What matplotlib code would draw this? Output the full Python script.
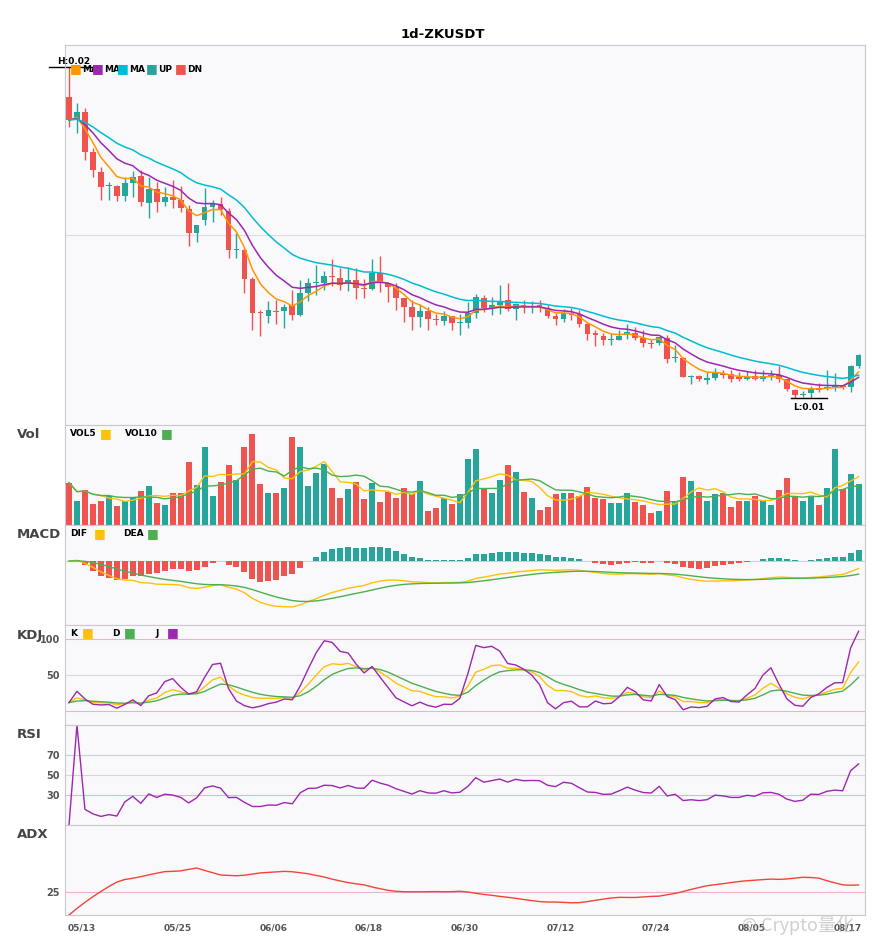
import numpy as np
import pandas as pd
import matplotlib
matplotlib.use('Agg')
import matplotlib.pyplot as plt

# daily ZK/USDT candles
dates = pd.date_range('2024-05-12', periods=100, freq='D')
opens = [0.2515,0.240,0.244,0.224,0.214,0.207,0.207,0.202,0.2085,0.212,
         0.1985,0.2055,0.199,0.2015,0.200,0.1955,0.1835,0.190,0.1965,0.198,
         0.1945,0.175,0.175,0.1605,0.144,0.142,0.1445,0.1445,0.1475,0.1425,
         0.1535,0.1585,0.1585,0.162,0.161,0.1585,0.160,0.156,0.1555,0.1635,
         0.1585,0.1565,0.151,0.1465,0.1415,0.1445,0.1405,0.1395,0.142,0.1385,
         0.1385,0.1435,0.151,0.146,0.1475,0.150,0.1455,0.1475,0.1465,0.1475,
         0.146,0.142,0.1405,0.1435,0.143,0.138,0.1335,0.132,0.130,0.130,
         0.1325,0.1335,0.131,0.1285,0.1285,0.131,0.121,0.121,0.1115,0.112,
         0.110,0.111,0.1135,0.113,0.1115,0.1105,0.112,0.1105,0.112,0.1125,
         0.1105,0.105,0.1025,0.1035,0.1055,0.106,0.1065,0.107,0.1065,0.117]
closes = [0.240,0.244,0.224,0.215,0.2065,0.2072,0.202,0.2085,0.2115,0.199,
          0.2055,0.199,0.2015,0.200,0.196,0.1835,0.1875,0.1965,0.1985,0.195,
          0.175,0.1752,0.1605,0.1435,0.1435,0.145,0.144,0.1465,0.1425,0.1535,
          0.1585,0.1587,0.162,0.1615,0.1575,0.160,0.156,0.1555,0.1635,0.1595,
          0.1565,0.151,0.1465,0.1415,0.1445,0.1405,0.140,0.142,0.1385,0.139,
          0.1435,0.1515,0.146,0.1475,0.149,0.1455,0.148,0.1465,0.1467,0.1465,
          0.142,0.1405,0.1435,0.1425,0.138,0.133,0.1325,0.130,0.1302,0.132,
          0.134,0.131,0.1285,0.128,0.1315,0.1205,0.1215,0.1115,0.112,0.1105,
          0.111,0.1135,0.1125,0.1105,0.1105,0.1115,0.1105,0.112,0.1122,0.1105,
          0.1055,0.1025,0.103,0.1055,0.1052,0.1065,0.107,0.1065,0.117,0.1225]
highs = [0.2665,0.2485,0.246,0.226,0.2165,0.209,0.2075,0.2115,0.2145,0.215,
         0.2115,0.209,0.2065,0.210,0.207,0.1975,0.1855,0.206,0.200,0.2015,
         0.196,0.1835,0.176,0.1615,0.145,0.1495,0.150,0.148,0.155,0.160,
         0.161,0.1675,0.1645,0.1705,0.166,0.1665,0.166,0.1605,0.1705,0.172,
         0.1585,0.1585,0.150,0.150,0.148,0.1465,0.143,0.1445,0.142,0.143,
         0.149,0.153,0.1525,0.1515,0.1575,0.1585,0.1485,0.150,0.1495,0.150,
         0.1475,0.1435,0.1455,0.146,0.145,0.1385,0.135,0.1335,0.1335,0.135,
         0.138,0.1365,0.135,0.1305,0.1315,0.1325,0.1275,0.1215,0.1125,0.1125,
         0.114,0.116,0.115,0.115,0.114,0.1145,0.115,0.115,0.115,0.117,
         0.1105,0.1055,0.1045,0.107,0.1085,0.115,0.1135,0.107,0.1175,0.123]
lows = [0.2365,0.2335,0.220,0.2115,0.200,0.200,0.1995,0.1995,0.2015,0.197,
        0.191,0.194,0.197,0.196,0.194,0.177,0.179,0.1875,0.189,0.1925,
        0.171,0.171,0.1535,0.135,0.132,0.1385,0.138,0.136,0.140,0.142,
        0.1495,0.1525,0.155,0.157,0.155,0.1545,0.1505,0.151,0.155,0.154,
        0.149,0.145,0.139,0.135,0.1365,0.135,0.1375,0.1375,0.135,0.1325,
        0.136,0.141,0.144,0.1425,0.143,0.1445,0.140,0.1435,0.1435,0.144,
        0.141,0.1375,0.139,0.140,0.1365,0.130,0.127,0.1275,0.1275,0.130,
        0.1305,0.130,0.1265,0.126,0.1275,0.1185,0.119,0.1115,0.108,0.1095,
        0.108,0.110,0.111,0.109,0.1095,0.110,0.110,0.1095,0.110,0.109,
        0.1045,0.101,0.1015,0.101,0.104,0.105,0.1045,0.1055,0.104,0.116]
volumes = [42,24,35,21,24,29,19,24,27,34,39,22,20,32,32,62,40,77,29,43,
           59,45,77,90,41,32,32,37,87,77,39,51,60,37,27,36,43,26,42,23,
           33,27,37,31,44,14,17,27,21,31,65,75,36,32,45,59,52,33,27,15,
           18,31,32,32,29,38,27,26,22,22,32,23,20,12,14,34,24,48,44,33,
           24,31,32,18,24,24,29,25,20,35,47,29,24,28,20,37,75,36,50,41]
tick_labels = ['05/13','05/25','06/06','06/18','06/30','07/12','07/24','08/05','08/17']

UP, DN = '#26a69a', '#ef5350'
BG = '#f9f9fb'

df = pd.DataFrame({'open': opens, 'high': highs, 'low': lows, 'close': closes,
                   'vol': volumes}, index=dates)
x = np.arange(len(df))
up = df.close >= df.open
col = np.where(up, UP, DN)

# indicators
c = df.close
ma5 = c.ewm(span=5, adjust=False).mean()
ma10 = c.ewm(span=10, adjust=False).mean()
ma20 = c.ewm(span=20, adjust=False).mean()
vol5 = df.vol.rolling(5, min_periods=1).mean()
vol10 = df.vol.rolling(10, min_periods=1).mean()

dif = c.ewm(span=12, adjust=False).mean() - c.ewm(span=26, adjust=False).mean()
dea = dif.ewm(span=9, adjust=False).mean()
hist = 2 * (dif - dea)

low9 = df.low.rolling(9, min_periods=1).min()
high9 = df.high.rolling(9, min_periods=1).max()
rsv = (c - low9) / (high9 - low9) * 100
k = rsv.ewm(com=2, adjust=False).mean()
d = k.ewm(com=2, adjust=False).mean()
j = 3 * k - 2 * d

delta = c.diff()
gain = delta.clip(lower=0).ewm(alpha=1/14, adjust=True).mean()
loss = (-delta.clip(upper=0)).ewm(alpha=1/14, adjust=True).mean()
rsi = (100 * gain / (gain + loss)).fillna(0)

tr = pd.concat([df.high - df.low, (df.high - c.shift()).abs(),
                (df.low - c.shift()).abs()], axis=1).max(axis=1)
upm = df.high.diff()
dnm = -df.low.diff()
pdm = pd.Series(np.where((upm > dnm) & (upm > 0), upm, 0.0), index=df.index)
ndm = pd.Series(np.where((dnm > upm) & (dnm > 0), dnm, 0.0), index=df.index)
atr = tr.ewm(alpha=1/14, adjust=True).mean()
pdi = 100 * pdm.ewm(alpha=1/14, adjust=True).mean() / atr
ndi = 100 * ndm.ewm(alpha=1/14, adjust=True).mean() / atr
dx = (100 * (pdi - ndi).abs() / (pdi + ndi)).fillna(0)
dx.iloc[0] = 0
adx = dx.ewm(alpha=1/14, adjust=False).mean()

# layout
fig = plt.figure(figsize=(8.85, 9.5), dpi=100)
W, H = 885, 950
left, right = 65 / W, 865 / W
def panel(top, bottom):
    ax = fig.add_axes([left, 1 - bottom / H, right - left, (bottom - top) / H])
    ax.set_facecolor(BG)
    for s in ax.spines.values():
        s.set_color('#c8c8d0')
        s.set_linewidth(0.8)
    ax.set_xlim(-0.5, 99.8)
    ax.tick_params(axis='x', length=0, labelbottom=False)
    ax.tick_params(axis='y', length=0, labelsize=7, labelcolor='#555555')
    return ax

ax1 = panel(45, 425)
ax2 = panel(425, 525)
ax3 = panel(525, 625)
ax4 = panel(625, 725)
ax5 = panel(725, 825)
ax6 = panel(825, 915)

fig.text(0.5, 1 - 34 / H, '1d-ZKUSDT', ha='center', va='center',
         fontsize=9.5, fontweight='bold')

# price
ax1.vlines(x, df.low, df.high, colors=col, linewidth=1)
ax1.bar(x, (df.close - df.open).abs().clip(lower=0.0006),
        bottom=np.minimum(df.open, df.close), width=0.72, color=col)
ax1.plot(x, ma5, color='#ff9800', lw=1.1)
ax1.plot(x, ma10, color='#9c27b0', lw=1.1)
ax1.plot(x, ma20, color='#00bcd4', lw=1.1)
ax1.set_ylim(0.0875, 0.2775)
ax1.set_yticks([0.1825])
ax1.set_yticklabels([])
ax1.grid(axis='y', color='#dcdce2', lw=0.8)
ax1.set_axisbelow(True)

ih = int(np.argmax(df.high))
il = int(np.argmin(df.low))
ax1.plot([ih - 2.5, ih + 3.3], [df.high.iloc[ih]] * 2, color='black', lw=1, clip_on=False)
ax1.text(ih - 1.5, df.high.iloc[ih] + 0.0015, 'H:0.02', fontsize=6.5, fontweight='bold')
ax1.plot([il - 0.5, il + 4], [df.low.iloc[il]] * 2, color='black', lw=1)
ax1.text(il + 1.8, df.low.iloc[il] - 0.0025, 'L:0.01', fontsize=6.5,
         fontweight='bold', ha='center', va='top')

items1 = [('MA', '#ff9800'), ('MA', '#9c27b0'), ('MA', '#00bcd4'), ('UP', UP), ('DN', DN)]
for (name, color), xp in zip(items1, [70, 92, 117, 146, 175]):
    fig.text(xp / W, 1 - 69 / H, '\u25A0', color=color, fontsize=9, va='center')
    fig.text((xp + 12) / W, 1 - 69 / H, name, fontsize=6.5, fontweight='bold', va='center')

def sub_legend(y, items, xs):
    for (name, color), xp in zip(items, xs):
        fig.text(xp / W, 1 - y / H, name, fontsize=6.5, fontweight='bold', va='center')
        fig.text((xp + len(name) * 6 + 6) / W, 1 - y / H, '\u25A0', color=color,
                 fontsize=9, va='center')

def side_label(y, name):
    fig.text(17 / W, 1 - y / H, name, fontsize=9.5, fontweight='bold',
             color='#444444', va='center')

# volume
ax2.bar(x, df.vol, width=0.75, color=col)
ax2.plot(x, vol5, color='#ffc107', lw=1)
ax2.plot(x, vol10, color='#4caf50', lw=1)
ax2.set_ylim(0, 99)
ax2.set_yticks([])
side_label(435, 'Vol')
sub_legend(434, [('VOL5', '#ffc107'), ('VOL10', '#4caf50')], [70, 125])

# macd
ax3.bar(x, hist, width=0.75, color=np.where(hist >= 0, UP, DN))
ax3.plot(x, dif, color='#ffc107', lw=1)
ax3.plot(x, dea, color='#4caf50', lw=1)
ax3.axhline(0, color='#d0d0d8', lw=0.8, zorder=0)
lo = min(dif.min(), dea.min(), hist.min())
ax3.set_ylim(lo * 64 / 46, -lo * 36 / 46)
ax3.set_yticks([])
side_label(535, 'MACD')
sub_legend(534, [('DIF', '#ffc107'), ('DEA', '#4caf50')], [70, 123])

# kdj
ax4.plot(x, k, color='#ffc107', lw=1)
ax4.plot(x, d, color='#4caf50', lw=1)
ax4.plot(x, j, color='#9c27b0', lw=1)
ax4.axhline(100, color='#e8b4cc', lw=0.8, zorder=0)
ax4.axhline(50, color='#d8d8e0', lw=0.8, zorder=0)
ax4.axhline(0, color='#e8b4cc', lw=0.8, zorder=0)
ax4.set_ylim(-19.4, 119.4)
ax4.set_yticks([50, 100])
ax4.set_yticklabels(['50', '100'], fontweight='bold')
side_label(635, 'KDJ')
sub_legend(633, [('K', '#ffc107'), ('D', '#4caf50'), ('J', '#9c27b0')], [70, 112, 155])

# rsi
ax5.plot(x, rsi, color='#9c27b0', lw=1)
ax5.axhline(70, color='#c8d0e0', lw=0.8, zorder=0)
ax5.axhline(50, color='#e0d0dc', lw=0.8, zorder=0)
ax5.axhline(30, color='#e8b4cc', lw=0.8, zorder=0)
ax5.set_ylim(0, 100)
ax5.set_yticks([30, 50, 70])
ax5.set_yticklabels(['30', '50', '70'], fontweight='bold')
side_label(735, 'RSI')

# adx
ax6.plot(x, adx, color='#f44336', lw=1)
ax6.axhline(25, color='#e8b4cc', lw=0.8, zorder=0)
ax6.set_ylim(0, 98)
ax6.set_yticks([25])
ax6.set_yticklabels(['25'], fontweight='bold')
side_label(835, 'ADX')
ax6.set_xticks(np.arange(1.6, 100, 12))
ax6.set_xticklabels(tick_labels, fontsize=6.5, fontweight='bold', color='#555555')
ax6.tick_params(axis='x', labelbottom=True, pad=6)

fig.text(0.965, 1 - 925 / H, '\u00A9 Crypto量化', ha='right', va='center',
         fontsize=13, color='#b0b0b0', alpha=0.6,
         family=['Noto Sans CJK SC', 'DejaVu Sans'])

fig.savefig('out.png', dpi=100, facecolor='white')
